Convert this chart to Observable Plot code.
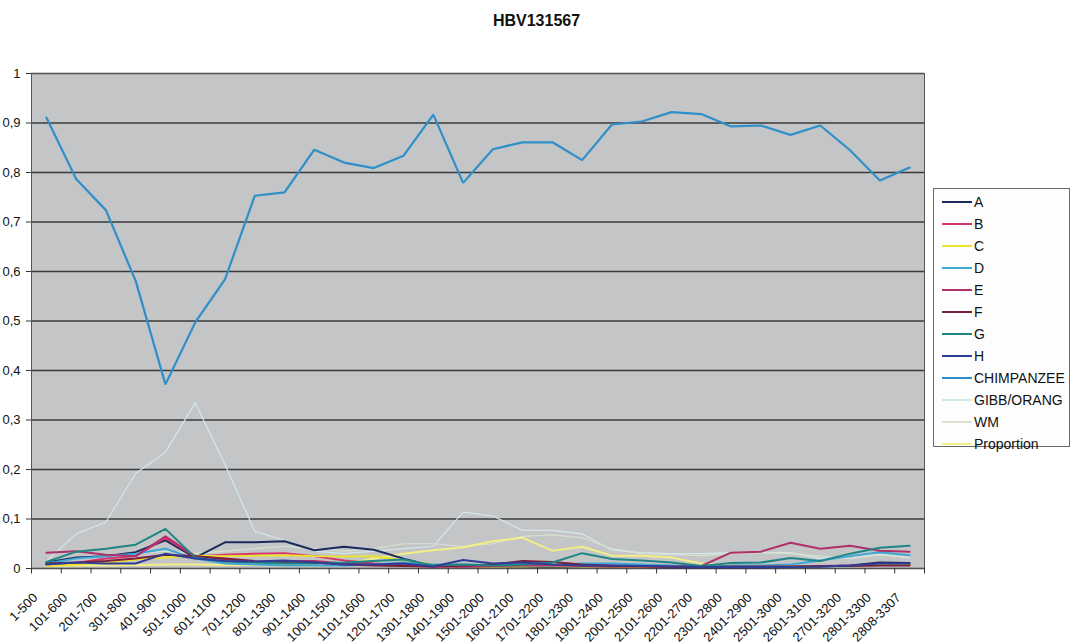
<!DOCTYPE html>
<html>
<head>
<meta charset="utf-8">
<script src="https://cdn.jsdelivr.net/npm/d3@7"></script>
<script src="https://cdn.jsdelivr.net/npm/@observablehq/plot@0.6"></script>
<style>
  html, body { margin: 0; padding: 0; background: #ffffff; }
  #wrap { position: relative; width: 1073px; height: 644px; overflow: hidden; font-family: "Liberation Sans", Arial, sans-serif; }
  #title { position: absolute; left: 0; top: 12px; width: 1073px; text-align: center; font-weight: bold; font-size: 16px; color: #111; }
  #legend { position: absolute; left: 933px; top: 188px; width: 137px; height: 259px; box-sizing: border-box; border: 1px solid #6a6a6a; background: #fdfdfd; }
  .row { position: absolute; left: 0; height: 22px; display: flex; align-items: center; font-size: 14px; color: #111; }
  .sw { width: 30px; margin-left: 8px; margin-right: 2px; }
</style>
</head>
<body>
<div id="wrap">
  <div id="title">HBV131567</div>
  <div id="chart"></div>
  <div id="legend"></div>
</div>
<script>
// ---- data ----
const title = "HBV131567";
const categories = ["1-500","101-600","201-700","301-800","401-900","501-1000","601-1100","701-1200","801-1300","901-1400","1001-1500","1101-1600","1201-1700","1301-1800","1401-1900","1501-2000","1601-2100","1701-2200","1801-2300","1901-2400","2001-2500","2101-2600","2201-2700","2301-2800","2401-2900","2501-3000","2601-3100","2701-3200","2801-3300","2808-3307"];
const yTicks = [0,0.1,0.2,0.3,0.4,0.5,0.6,0.7,0.8,0.9,1];
const yTickLabels = ["0","0,1","0,2","0,3","0,4","0,5","0,6","0,7","0,8","0,9","1"];

const seriesNames = ["A","B","C","D","E","F","G","H","CHIMPANZEE","GIBB/ORANG","WM","Proportion"];
const seriesColors = ["#1b2a5e","#d8336e","#ece32e","#3fa7d6","#b0306a","#7a1f3a","#1f8585","#2e3d96","#2e8fc9","#d3e8ea","#d8e2d0","#f2ef86"];
const seriesWidths = [2,2,2,2,2,2,2,2,2.2,1.2,1.2,2];

const A = [0.012,0.022,0.025,0.033,0.057,0.022,0.053,0.053,0.055,0.037,0.044,0.038,0.020,0.005,0.004,0.003,0.003,0.003,0.004,0.003,0.003,0.002,0.002,0.002,0.002,0.003,0.004,0.006,0.012,0.011];
const B = [0.006,0.011,0.020,0.025,0.062,0.024,0.028,0.030,0.031,0.025,0.016,0.010,0.006,0.004,0.004,0.004,0.006,0.006,0.008,0.006,0.004,0.004,0.003,0.004,0.004,0.004,0.005,0.006,0.008,0.008];
const C = [0.005,0.008,0.012,0.018,0.022,0.026,0.025,0.026,0.027,0.025,0.024,0.025,0.016,0.008,0.005,0.004,0.004,0.005,0.004,0.004,0.003,0.003,0.003,0.004,0.004,0.004,0.005,0.005,0.008,0.008];
const D = [0.010,0.020,0.025,0.030,0.040,0.020,0.010,0.008,0.006,0.006,0.006,0.008,0.012,0.008,0.008,0.006,0.006,0.006,0.010,0.010,0.008,0.006,0.004,0.006,0.006,0.008,0.016,0.025,0.033,0.027];
const E = [0.032,0.035,0.028,0.025,0.065,0.025,0.018,0.014,0.015,0.015,0.010,0.008,0.006,0.004,0.005,0.005,0.006,0.006,0.005,0.004,0.004,0.004,0.005,0.032,0.034,0.052,0.040,0.046,0.036,0.034];
const F = [0.010,0.012,0.015,0.020,0.028,0.025,0.020,0.015,0.013,0.012,0.008,0.006,0.005,0.004,0.006,0.008,0.015,0.013,0.008,0.005,0.004,0.003,0.003,0.004,0.004,0.004,0.005,0.005,0.006,0.006];
const G = [0.013,0.034,0.040,0.048,0.080,0.022,0.014,0.012,0.010,0.010,0.012,0.015,0.018,0.006,0.008,0.006,0.008,0.012,0.031,0.019,0.016,0.012,0.005,0.011,0.012,0.021,0.015,0.030,0.042,0.046];
const H = [0.008,0.012,0.010,0.010,0.030,0.020,0.015,0.014,0.016,0.012,0.008,0.008,0.010,0.004,0.017,0.010,0.012,0.008,0.006,0.006,0.005,0.004,0.003,0.003,0.003,0.003,0.004,0.006,0.010,0.010];
const CHIMPANZEE = [0.911,0.787,0.724,0.581,0.372,0.497,0.584,0.753,0.760,0.846,0.820,0.809,0.834,0.917,0.779,0.847,0.861,0.861,0.825,0.897,0.903,0.922,0.918,0.893,0.895,0.876,0.895,0.845,0.784,0.810];
const GIBB_ORANG = [0.015,0.070,0.094,0.192,0.235,0.335,0.210,0.075,0.057,0.035,0.030,0.035,0.040,0.045,0.114,0.106,0.077,0.077,0.070,0.037,0.032,0.030,0.030,0.032,0.032,0.032,0.020,0.025,0.028,0.022];
const WM = [0.010,0.020,0.025,0.030,0.035,0.030,0.035,0.040,0.045,0.040,0.035,0.040,0.050,0.050,0.045,0.050,0.065,0.068,0.062,0.040,0.030,0.028,0.026,0.030,0.032,0.030,0.025,0.020,0.028,0.022];
const Proportion = [0.005,0.006,0.006,0.007,0.008,0.008,0.007,0.007,0.006,0.006,0.008,0.020,0.030,0.037,0.043,0.055,0.062,0.036,0.044,0.026,0.026,0.022,0.010,0.006,0.005,0.005,0.005,0.005,0.008,0.008];

const seriesValues = [A,B,C,D,E,F,G,H,CHIMPANZEE,GIBB_ORANG,WM,Proportion];

// ---- build ----
const idx = categories.map((_, i) => i);
const boundaries = d3.range(-0.5, categories.length, 1);
const drawOrder = [9,10,11,0,1,2,3,4,5,6,7,8];

const lineMarks = drawOrder.map(s =>
  Plot.line(seriesValues[s].map((v, i) => ({i, v})), {
    x: "i", y: "v", stroke: seriesColors[s], strokeWidth: seriesWidths[s], strokeLinejoin: "miter"
  })
);

const chart = Plot.plot({
  width: 1073,
  height: 644,
  marginLeft: 31,
  marginRight: 149,
  marginTop: 73,
  marginBottom: 76,
  style: { fontFamily: "'Liberation Sans', Arial, sans-serif", fontSize: "13px", background: "transparent", color: "#111", overflow: "visible" },
  x: { domain: [-0.5, categories.length - 0.5], axis: null },
  y: { domain: [0, 1], axis: null },
  marks: [
    Plot.frame({ fill: "#c3c5c7", stroke: null }),
    Plot.gridY(yTicks, { stroke: "#3a3a3a", strokeOpacity: 1, strokeWidth: 1.3 }),
    Plot.frame({ stroke: "#555", strokeWidth: 1 }),
    Plot.ruleX(boundaries, { x: d => d, y1: 0, y2: -0.011, stroke: "#333", clip: false }),
    Plot.axisY({ ticks: yTicks, tickFormat: d => yTickLabels[yTicks.indexOf(d)], tickSize: 5, tickPadding: 6, fontSize: 13, label: null, stroke: "#333" }),
    ...lineMarks,
    Plot.text(idx, {
      x: d => d, text: d => categories[d], frameAnchor: "bottom",
      rotate: -45, textAnchor: "end", lineAnchor: "middle",
      dy: 27, dx: -11, fontSize: 13, fill: "#111"
    })
  ]
});
document.getElementById("chart").appendChild(chart);
document.getElementById("title").textContent = title;

// ---- legend ----
const legend = document.getElementById("legend");
seriesNames.forEach((name, s) => {
  const row = document.createElement("div");
  row.className = "row";
  row.style.top = (2 + s * 21.96) + "px";
  const sw = document.createElement("div");
  sw.className = "sw";
  sw.style.borderTop = "2px solid " + seriesColors[s];
  const lab = document.createElement("span");
  lab.textContent = name;
  row.appendChild(sw);
  row.appendChild(lab);
  legend.appendChild(row);
});
</script>
</body>
</html>
